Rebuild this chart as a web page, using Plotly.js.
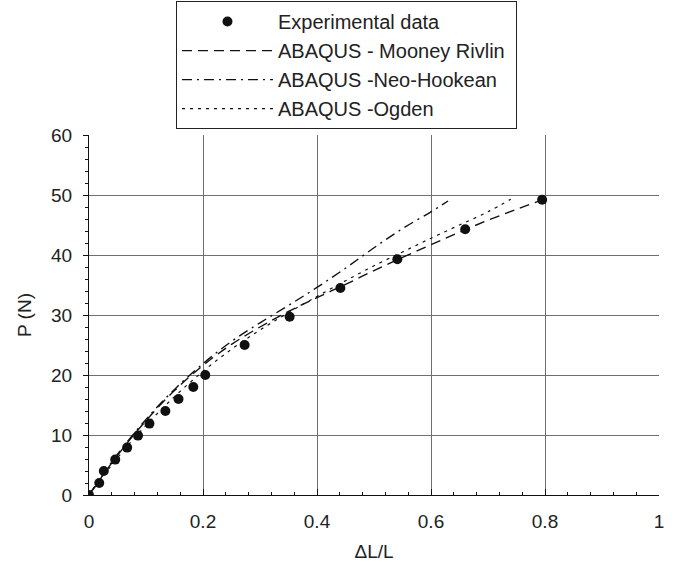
<!DOCTYPE html>
<html>
<head>
<meta charset="utf-8">
<script src="https://cdn.plot.ly/plotly-3.0.1.min.js"></script>
<style>html,body{margin:0;padding:0;background:#fff;}#chart{width:674px;height:562px;}</style>
</head>
<body>
<div id="chart"></div>
<script>
// Experimental data
var expX = [0, 0.018, 0.026, 0.046, 0.067, 0.086, 0.106, 0.134, 0.157, 0.183, 0.204, 0.273, 0.352, 0.441, 0.541, 0.660, 0.795];
var expY = [0, 2.0, 4.0, 5.9, 7.9, 9.9, 11.9, 14.0, 16.0, 18.0, 20.0, 25.0, 29.7, 34.5, 39.3, 44.3, 49.2];

// ABAQUS - Mooney Rivlin
var mrX = [0, 0.05, 0.10, 0.15, 0.20, 0.25, 0.30, 0.35, 0.40, 0.45, 0.50, 0.55, 0.60, 0.65, 0.70, 0.75, 0.795];
var mrY = [0, 6.6, 12.4, 17.4, 21.6, 25.1, 28.0, 30.6, 32.9, 35.1, 37.4, 39.6, 41.7, 43.8, 45.8, 47.6, 49.2];

// ABAQUS - Neo-Hookean
var nhX = [0, 0.05, 0.10, 0.15, 0.20, 0.25, 0.30, 0.35, 0.40, 0.45, 0.50, 0.55, 0.60, 0.63];
var nhY = [0, 6.8, 12.6, 17.6, 21.9, 25.6, 28.7, 31.6, 34.6, 37.8, 41.2, 44.4, 47.2, 49.0];

// ABAQUS - Ogden
var ogX = [0, 0.05, 0.10, 0.15, 0.20, 0.25, 0.30, 0.35, 0.40, 0.45, 0.50, 0.55, 0.60, 0.65, 0.70, 0.74];
var ogY = [0, 6.2, 11.6, 16.4, 20.6, 24.3, 27.5, 30.4, 33.1, 35.7, 38.2, 40.5, 42.8, 45.0, 47.2, 49.3];

var seriesNames = ['Experimental data', 'ABAQUS - Mooney Rivlin\u00a0', 'ABAQUS -Neo-Hookean', 'ABAQUS -Ogden'];

var xTicks = [0, 0.2, 0.4, 0.6, 0.8, 1];
var xTickText = ['0', '0.2', '0.4', '0.6', '0.8', '1'];
var yTicks = [0, 10, 20, 30, 40, 50, 60];

var traces = [
  {x: expX, y: expY, mode: 'markers', name: seriesNames[0], legendgroup: 'a',
   marker: {color: '#111', size: 10, symbol: 'circle'}},
  {x: mrX, y: mrY, mode: 'lines', name: seriesNames[1], legendgroup: 'b',
   line: {color: '#111', width: 1.4, dash: '10px,6px', shape: 'spline'}},
  {x: nhX, y: nhY, mode: 'lines', name: seriesNames[2], legendgroup: 'c',
   line: {color: '#111', width: 1.4, dash: '10px,5px,2px,5px', shape: 'spline'}},
  {x: ogX, y: ogY, mode: 'lines', name: seriesNames[3], legendgroup: 'd',
   line: {color: '#111', width: 1.2, dash: '3px,5px', shape: 'spline'}}
];

var layout = {
  width: 674, height: 562,
  margin: {l: 89, r: 15, t: 135, b: 67, autoexpand: false},
  paper_bgcolor: '#fff', plot_bgcolor: '#fff',
  font: {family: 'Liberation Sans, Arial, sans-serif', size: 19, color: '#222'},
  showlegend: true,
  legend: {
    x: 0.1526, y: 1.372, xanchor: 'left', yanchor: 'top',
    bordercolor: '#222', borderwidth: 1, bgcolor: '#fff',
    font: {size: 20, color: '#222'},
    tracegroupgap: 0, itemwidth: 91
  },
  xaxis: {
    range: [0, 1], tickvals: xTicks, ticktext: xTickText,
    showgrid: true, gridcolor: '#6e6e6e', gridwidth: 1,
    showline: true, linecolor: '#111', linewidth: 1,
    ticks: 'inside', ticklen: 6, tickcolor: '#111',
    ticklabelstandoff: 9,
    minor: {dtick: 0.04, ticks: 'inside', ticklen: 3, tickcolor: '#111', showgrid: false},
    zeroline: false,
    title: {text: '\u0394L/L', font: {size: 19}, standoff: 14}
  },
  yaxis: {
    range: [0, 60], tickvals: yTicks,
    showgrid: true, gridcolor: '#6e6e6e', gridwidth: 1,
    showline: true, linecolor: '#111', linewidth: 1,
    ticks: 'outside', ticklen: 5, tickcolor: '#111',
    ticklabelstandoff: 7,
    minor: {dtick: 2, ticks: 'outside', ticklen: 3, tickcolor: '#111', showgrid: false},
    zeroline: false,
    title: {text: 'P (N)', font: {size: 19}, standoff: 14}
  }
};

Plotly.newPlot('chart', traces, layout, {displayModeBar: false, staticPlot: true});
</script>
</body>
</html>
